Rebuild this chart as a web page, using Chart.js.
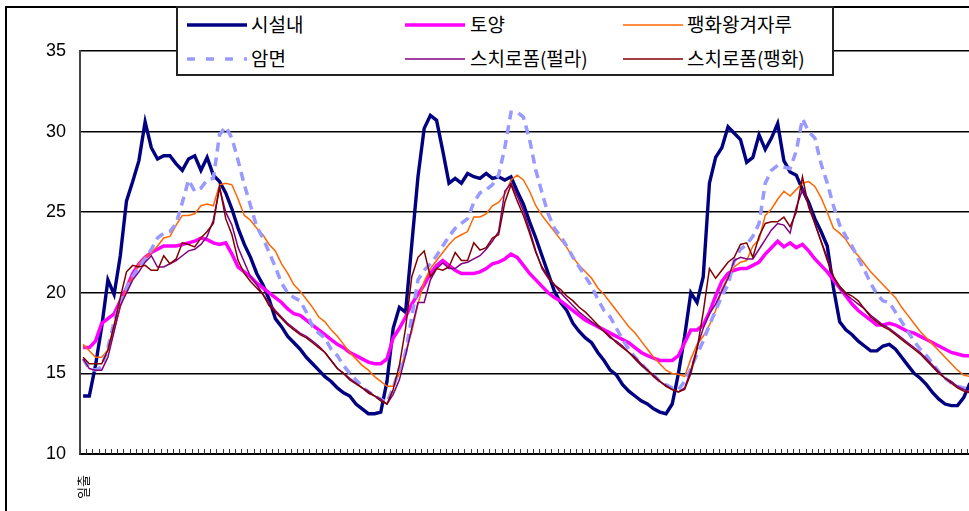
<!DOCTYPE html>
<html>
<head>
<meta charset="utf-8">
<script src="https://cdn.jsdelivr.net/npm/chart.js@4.4.1/dist/chart.umd.min.js"></script>
<style>
html,body{margin:0;padding:0;background:#fff;overflow:hidden;width:969px;height:511px}
#wrap{position:relative;width:973px;height:511px}
#frame{position:absolute;left:5px;top:6px;width:1100px;height:700px;border-left:2px solid #000;border-top:2px solid #000;pointer-events:none;z-index:1}
#legend{position:absolute;left:176px;top:6px;width:654px;height:66px;border:2px solid #222;background:#fff;z-index:2;font-family:"Noto Sans CJK KR","Noto Sans",sans-serif;color:#000}
#legend svg{position:absolute}
#legend span{position:absolute;font-size:19px;line-height:22px;white-space:nowrap}
</style>
</head>
<body>
<div id="wrap">
  <canvas id="c"></canvas>
  <div id="frame"></div>
  <div id="legend"></div>
</div>
<script>
// ---- data ----
const categories = Array.from({length:144}, (_, i) => i === 0 ? '일출' : '');
const yTicks = [10, 15, 20, 25, 30, 35];
const seriesNames = ['시설내','토양','팽화왕겨자루','암면','스치로폼(펄라)','스치로폼(팽화)'];

const inside = [13.6,13.6,15.5,17.9,20.8,19.9,22.3,25.7,26.9,28.2,
30.6,29.0,28.3,28.5,28.5,28.0,27.6,28.3,28.5,27.6,
28.4,27.3,26.9,26.2,25.2,24.0,23.0,22.2,21.2,20.5,
19.6,18.4,17.9,17.3,16.9,16.5,16.0,15.6,15.2,14.8,
14.5,14.1,13.8,13.6,13.1,12.8,12.5,12.5,12.6,14.5,
17.8,19.1,18.8,23.0,27.2,30.2,31.0,30.7,28.8,26.8,
27.1,26.8,27.4,27.2,27.1,27.4,27.1,27.2,27.0,27.2,
26.3,25.5,24.4,23.4,22.3,21.2,20.1,19.4,18.9,18.1,
17.6,17.2,16.9,16.3,15.8,15.2,14.9,14.3,13.9,13.6,
13.3,13.1,12.8,12.6,12.5,13.1,15.0,17.3,20.0,19.4,
21.0,26.8,28.4,29.0,30.3,29.9,29.5,28.1,28.4,29.8,
28.9,29.6,30.5,28.2,27.5,27.3,26.4,25.6,24.6,23.8,
22.9,20.3,18.2,17.7,17.4,17.0,16.7,16.4,16.4,16.7,
16.8,16.5,16.0,15.5,15.0,14.7,14.3,13.8,13.4,13.1,
13.0,13.0,13.5,14.4];

const soil = [16.6,16.6,17.0,18.1,18.4,18.7,19.5,20.3,21.2,21.8,
22.2,22.5,22.7,22.9,22.9,22.9,23.0,23.1,23.2,23.4,
23.3,23.1,23.0,23.1,22.4,21.6,21.3,21.0,20.6,20.3,
20.0,19.7,19.4,19.0,18.7,18.6,18.3,18.0,17.7,17.4,
17.1,16.8,16.6,16.3,16.1,15.9,15.7,15.6,15.6,15.9,
17.2,17.8,18.5,19.3,19.9,20.5,21.2,21.7,22.0,21.7,
21.4,21.2,21.2,21.2,21.3,21.5,21.8,21.9,22.1,22.4,
22.2,21.7,21.2,20.8,20.4,20.0,19.7,19.5,19.2,18.9,
18.6,18.3,18.1,17.9,17.7,17.5,17.3,17.1,16.9,16.6,
16.3,16.1,15.95,15.8,15.8,15.8,16.1,16.9,17.7,17.7,
18.0,18.8,19.8,20.7,21.2,21.4,21.5,21.5,21.7,21.9,
22.4,22.8,23.2,22.85,23.1,22.8,23.0,22.6,22.1,21.7,
21.3,20.8,20.3,19.8,19.3,18.9,18.6,18.3,18.0,18.0,
18.1,18.0,17.8,17.6,17.5,17.3,17.1,16.9,16.7,16.5,
16.3,16.2,16.1,16.1];

const riceHull = [16.8,16.4,16.0,16.0,16.45,17.7,19.1,20.3,21.0,21.8,
22.2,22.5,22.9,23.4,23.5,24.2,24.8,24.8,24.9,25.4,
25.5,25.4,26.7,26.8,26.7,25.8,24.8,24.5,24.0,23.6,
23.0,22.6,21.8,21.2,20.5,20.1,19.6,19.1,18.5,18.2,
17.7,17.3,16.8,16.3,15.9,15.5,15.2,14.8,14.5,14.2,
14.2,15.0,16.3,17.6,19.3,20.7,21.5,22.0,22.5,23.0,
23.4,23.6,23.8,24.7,24.7,24.9,25.4,25.6,26.1,27.0,
27.3,27.0,26.3,25.4,24.8,24.3,23.8,23.3,22.8,22.2,
21.7,21.3,20.9,20.3,19.9,19.4,18.9,18.4,17.9,17.5,
17.0,16.5,16.0,15.6,15.2,15.0,14.95,14.8,15.9,16.8,
17.3,18.0,18.9,20.2,21.0,21.6,21.9,22.0,22.9,23.3,
24.8,25.2,25.8,26.3,26.0,26.4,26.8,26.9,26.6,25.9,
25.0,24.0,23.7,23.3,22.7,22.3,21.8,21.3,20.9,20.5,
20.1,19.7,19.1,18.6,18.1,17.6,17.2,16.8,16.4,16.0,
15.6,15.2,14.9,14.8];

const rockwool = [15.9,15.3,15.2,15.4,16.6,18.2,19.4,20.3,21.0,21.6,
22.1,22.7,23.4,23.7,23.8,24.3,25.6,27.0,26.3,26.5,
27.0,27.1,29.8,30.3,29.6,28.2,26.7,25.4,24.1,23.4,
22.5,21.6,20.6,20.0,19.7,19.5,18.8,17.9,17.5,17.2,
16.5,16.1,15.5,15.0,14.6,14.2,13.85,13.6,13.4,13.2,
14.1,15.3,16.3,18.5,20.8,21.4,21.8,22.3,22.9,23.5,
24.0,24.3,24.6,25.6,26.2,26.4,26.7,27.3,29.0,31.2,
31.2,30.9,29.5,27.6,26.2,24.9,24.0,23.5,22.9,22.2,
21.6,21.0,20.4,19.6,18.9,18.5,17.8,17.1,16.5,16.0,
15.6,15.2,14.9,14.5,14.3,14.1,14.0,14.5,15.3,16.2,
17.0,18.0,18.9,19.8,20.5,22.0,22.7,23.0,23.5,24.3,
26.8,27.6,27.9,27.8,27.7,28.8,30.8,30.0,29.6,28.0,
26.8,25.4,24.2,23.5,22.9,22.1,21.4,20.6,19.9,19.5,
19.4,18.8,18.2,17.6,17.0,16.5,16.1,15.6,15.1,14.7,
14.4,14.2,14.1,14.0];

const styroPerl = [15.9,15.3,15.2,15.2,16.0,17.6,19.2,20.0,20.8,21.3,
21.9,22.3,21.6,21.6,21.8,22.0,22.3,22.6,22.7,23.0,
23.5,24.5,26.5,25.0,24.2,22.8,21.9,21.0,20.5,19.9,
19.4,18.9,18.5,18.1,17.8,17.5,17.3,17.0,16.7,16.3,
15.8,15.3,15.0,14.7,14.4,14.1,13.9,13.6,13.4,13.1,
13.7,14.6,16.1,17.8,19.4,19.4,20.8,21.5,21.85,21.5,
21.5,21.8,21.9,22.1,22.3,22.7,23.2,23.8,26.3,26.8,
26.0,25.1,23.9,22.6,21.5,20.9,20.5,20.0,19.6,19.2,
18.8,18.5,18.2,17.9,17.6,17.2,17.0,16.7,16.3,16.0,
15.6,15.2,14.9,14.5,14.25,14.0,13.85,14.1,15.2,16.6,
17.8,18.7,19.3,20.1,20.9,22.0,22.2,22.1,22.1,22.7,
23.3,23.9,24.3,24.2,23.7,25.3,26.4,25.5,24.3,23.2,
22.2,21.0,20.3,19.9,19.6,19.3,19.0,18.6,18.3,18.0,
17.8,17.5,17.2,16.9,16.6,16.3,15.9,15.5,15.1,14.7,
14.5,14.2,14.0,13.85];

const styroExp = [16.0,15.6,15.6,15.6,16.45,18.0,19.7,21.3,21.7,21.6,
21.7,21.4,21.4,22.3,21.8,22.1,23.1,23.0,22.85,23.4,
23.8,24.3,26.6,24.6,23.6,22.0,21.2,20.7,20.3,19.9,
19.2,18.8,18.4,18.0,17.7,17.4,17.2,16.9,16.6,16.3,
15.8,15.3,15.0,14.6,14.35,14.1,13.8,13.6,13.3,13.1,
14.0,15.5,17.8,21.0,22.2,22.6,21.0,21.5,21.4,21.6,
22.5,22.0,22.0,23.1,22.65,22.8,23.4,23.6,25.6,26.7,
25.7,24.8,23.7,22.5,21.6,21.0,20.5,20.2,19.8,19.5,
19.1,18.8,18.4,18.0,17.6,17.3,16.9,16.6,16.3,15.9,
15.5,15.2,14.8,14.5,14.2,14.0,13.85,14.0,15.0,16.5,
18.8,21.5,20.9,21.4,21.9,22.2,23.0,23.1,22.2,23.5,
24.3,24.4,24.4,24.7,24.1,25.0,27.2,25.3,24.3,23.2,
22.0,21.0,20.4,20.0,19.8,19.5,19.0,18.5,18.2,17.9,
17.7,17.4,17.1,16.8,16.5,16.2,15.8,15.4,15.0,14.7,
14.4,14.1,13.9,13.8];

const seriesValues = [inside, soil, riceHull, rockwool, styroPerl, styroExp];

// ---- styles ----
const seriesStyle = [
  {color:'#000080', width:3.4, dash:[]},
  {color:'#FF00FF', width:3.5, dash:[]},
  {color:'#FF6600', width:1.5, dash:[]},
  {color:'#9999FF', width:3.5, dash:[9,6]},
  {color:'#800080', width:1.5, dash:[]},
  {color:'#800000', width:1.5, dash:[]}
];

const datasets = seriesNames.map((name, i) => ({
  label: name,
  data: seriesValues[i],
  borderColor: seriesStyle[i].color,
  backgroundColor: seriesStyle[i].color,
  borderWidth: seriesStyle[i].width,
  borderDash: seriesStyle[i].dash,
  pointRadius: 0,
  pointHoverRadius: 0,
  tension: 0,
  fill: false,
  order: -i
}));

const innerTicks = {
  id: 'innerTicks',
  beforeDatasetsDraw(chart) {
    const xs = chart.scales.x;
    const c = chart.ctx;
    const bottom = chart.chartArea.bottom;
    c.save();
    c.strokeStyle = '#333';
    c.lineWidth = 1;
    c.beginPath();
    for (let k = 0; k <= categories.length; k++) {
      const x = Math.round(xs.getPixelForValue(k - 0.5)) + 0.5;
      c.moveTo(x, bottom);
      c.lineTo(x, bottom - 5);
    }
    c.stroke();
    c.restore();
  }
};

new Chart(document.getElementById('c'), {
  type: 'line',
  data: { labels: categories, datasets },
  options: {
    responsive: true,
    maintainAspectRatio: false,
    animation: false,
    events: [],
    layout: { padding: { left: 0, top: 51, right: 0, bottom: 0 } },
    plugins: { legend: { display: false }, tooltip: { enabled: false } },
    scales: {
      x: {
        type: 'category',
        offset: true,
        grid: { display: false, drawTicks: false },
        border: { display: true, color: '#000', width: 2 },
        ticks: {
          autoSkip: false, maxRotation: 90, minRotation: 90, padding: 21,
          color: '#000', font: { family: '"Noto Sans CJK KR"', size: 13 }
        },
        afterFit(s) { s.height = 57; s.paddingLeft = 0; s.paddingRight = 0; }
      },
      y: {
        min: yTicks[0], max: yTicks[yTicks.length - 1],
        afterBuildTicks(s) { s.ticks = yTicks.map(v => ({ value: v })); },
        grid: { color: '#000', lineWidth: 1.6, drawTicks: false },
        border: { display: true, color: '#444', width: 2 },
        ticks: {
          padding: 14, color: '#000',
          font: { family: '"Liberation Sans", Arial, sans-serif', size: 18 }
        },
        afterFit(s) { s.width = 80; s.paddingTop = 0; s.paddingBottom = 0; }
      }
    }
  },
  plugins: [innerTicks]
});

// ---- legend (HTML, built from the series) ----
const legend = document.getElementById('legend');
const colSample = [187, 405, 623];
const colText = [251, 470, 687];
const rowY = [25, 59];
const ox = 178, oy = 8;
seriesNames.forEach((name, i) => {
  const col = i % 3, row = Math.floor(i / 3);
  const st = seriesStyle[i];
  const svgNS = 'http://www.w3.org/2000/svg';
  const svg = document.createElementNS(svgNS, 'svg');
  svg.setAttribute('width', '62');
  svg.setAttribute('height', '10');
  svg.style.left = (colSample[col] - ox) + 'px';
  svg.style.top = (rowY[row] - oy - 5) + 'px';
  const ln = document.createElementNS(svgNS, 'line');
  ln.setAttribute('x1', '0'); ln.setAttribute('x2', '60');
  ln.setAttribute('y1', '5'); ln.setAttribute('y2', '5');
  ln.setAttribute('stroke', st.color);
  ln.setAttribute('stroke-width', String(st.width));
  if (st.dash.length) ln.setAttribute('stroke-dasharray', '8 11');
  svg.appendChild(ln);
  legend.appendChild(svg);
  const sp = document.createElement('span');
  sp.textContent = name;
  sp.style.left = (colText[col] - ox) + 'px';
  sp.style.top = (rowY[row] - oy - 12) + 'px';
  legend.appendChild(sp);
});
</script>
</body>
</html>
